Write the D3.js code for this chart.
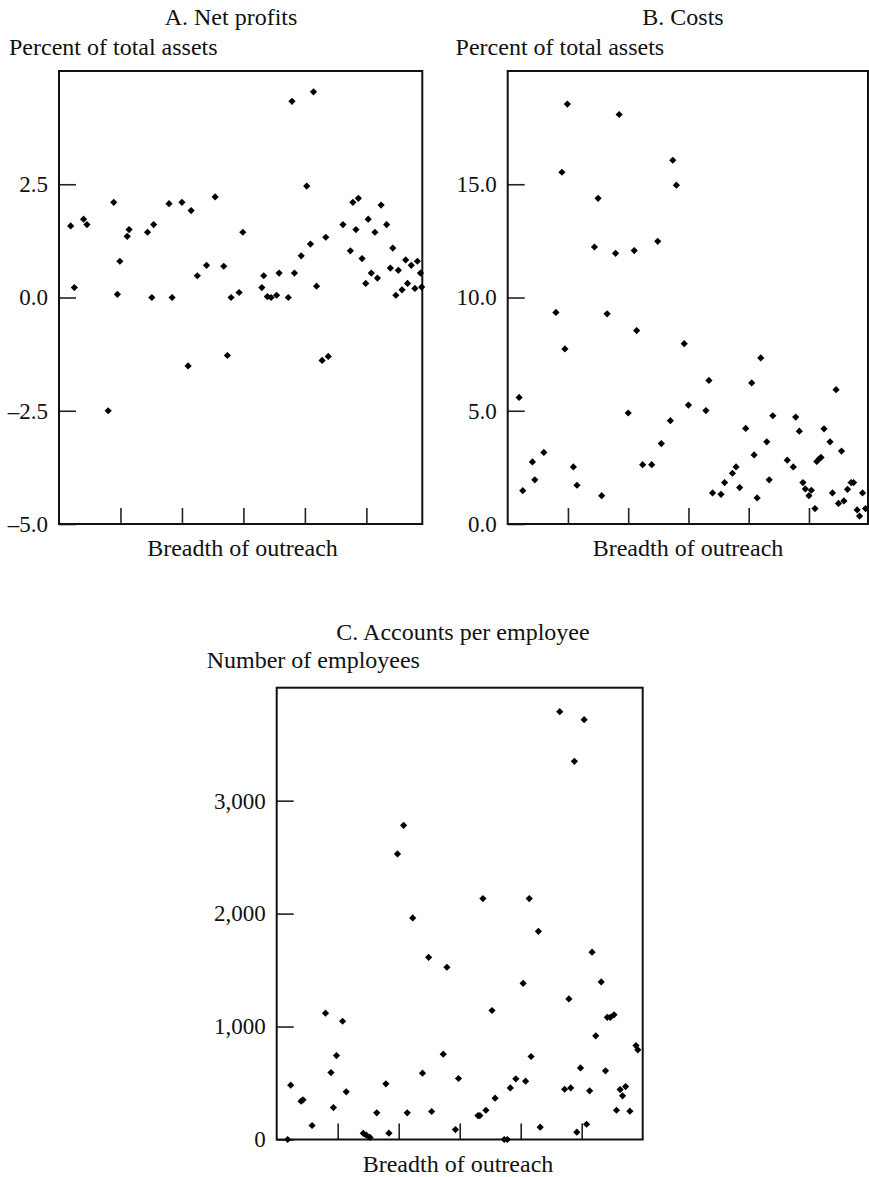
<!DOCTYPE html>
<html>
<head>
<meta charset="utf-8">
<script src="https://cdnjs.cloudflare.com/ajax/libs/d3/7.8.5/d3.min.js"></script>
<style>
  body { margin: 0; background: #fff; }
  svg text { font-family: 'Liberation Serif', 'Times New Roman', serif; font-size: 24px; fill: #111; }
  svg .tick text { font-size: 23px; }
</style>
</head>
<body>
<svg id="chart" width="869" height="1177"></svg>
<script>
'use strict';

// A. Net profits (percent of total assets) against breadth of outreach
var profitsX = [0.19, 0.25, 0.40, 0.455, 0.80, 0.89, 0.95, 0.99, 1.11, 1.14, 1.44, 1.51, 1.54, 1.79, 1.84,
  2.00, 2.10, 2.15, 2.25, 2.40, 2.54, 2.68, 2.74, 2.80, 2.93, 2.99, 3.30, 3.33, 3.39, 3.45, 3.54, 3.58,
  3.73, 3.79, 3.83, 3.94, 4.03, 4.09, 4.14, 4.19, 4.28, 4.34, 4.38, 4.62, 4.74, 4.78, 4.83, 4.87, 4.93,
  4.99, 5.03, 5.08, 5.14, 5.18, 5.24, 5.33, 5.39, 5.43, 5.48, 5.52, 5.58, 5.64, 5.67, 5.73, 5.79, 5.83,
  5.88, 5.90];
var profitsY = [1.58, 0.22, 1.73, 1.61, -2.50, 2.10, 0.07, 0.80, 1.35, 1.50, 1.44, 0.00, 1.61, 2.07, 0.00,
  2.10, -1.51, 1.92, 0.48, 0.71, 2.22, 0.69, -1.28, 0.00, 0.11, 1.44, 0.22, 0.48, 0.02, 0.00, 0.05, 0.54,
  0.00, 4.33, 0.54, 0.92, 2.46, 1.18, 4.54, 0.25, -1.39, 1.33, -1.30, 1.61, 1.03, 2.10, 1.50, 2.19, 0.86,
  0.31, 1.73, 0.54, 1.44, 0.43, 2.04, 1.61, 0.65, 1.09, 0.05, 0.60, 0.17, 0.83, 0.31, 0.71, 0.20, 0.80,
  0.54, 0.23];
var profitsTicks = [-5, -2.5, 0, 2.5];
var profitsTickLabels = ['\u20135.0', '\u20132.5', '0.0', '2.5'];

// B. Costs (percent of total assets)
var costsX = [0.19, 0.25, 0.41, 0.45, 0.60, 0.80, 0.90, 0.95, 0.99, 1.09, 1.15, 1.44, 1.50, 1.56, 1.65,
  1.79, 1.85, 2.00, 2.10, 2.14, 2.24, 2.39, 2.49, 2.55, 2.70, 2.74, 2.80, 2.93, 3.00, 3.29, 3.34, 3.40,
  3.54, 3.60, 3.73, 3.79, 3.85, 3.95, 4.05, 4.09, 4.14, 4.20, 4.30, 4.34, 4.40, 4.64, 4.74, 4.78, 4.84,
  4.90, 4.94, 5.00, 5.04, 5.10, 5.13, 5.17, 5.20, 5.25, 5.35, 5.39, 5.45, 5.49, 5.54, 5.58, 5.64, 5.70,
  5.74, 5.80, 5.84, 5.89, 5.94];
var costsY = [5.59, 1.47, 2.74, 1.95, 3.16, 9.34, 15.53, 7.73, 18.54, 2.52, 1.71, 12.23, 14.38, 1.25, 9.28,
  11.95, 18.08, 4.90, 12.07, 8.54, 2.62, 2.62, 12.48, 3.55, 4.56, 16.06, 14.96, 7.96, 5.25, 5.01, 6.34, 1.37,
  1.31, 1.83, 2.24, 2.52, 1.61, 4.22, 6.23, 3.05, 1.15, 7.33, 3.63, 1.95, 4.78, 2.82, 2.52, 4.72, 4.10,
  1.83, 1.55, 1.25, 1.49, 0.68, 2.76, 2.88, 2.94, 4.20, 3.63, 1.37, 5.93, 0.91, 3.22, 1.02, 1.53, 1.83,
  1.83, 0.62, 0.35, 1.37, 0.68];
var costsTicks = [0, 5, 10, 15];
var costsTickLabels = ['0.0', '5.0', '10.0', '15.0'];

// C. Accounts per employee (number of employees)
var staffX = [0.18, 0.23, 0.40, 0.43, 0.58, 0.80, 0.89, 0.93, 0.98, 1.08, 1.14, 1.42, 1.47, 1.53, 1.64,
  1.79, 1.84, 1.98, 2.08, 2.14, 2.23, 2.39, 2.49, 2.54, 2.73, 2.79, 2.93, 2.98, 3.30, 3.33, 3.38, 3.43,
  3.53, 3.58, 3.73, 3.78, 3.83, 3.92, 4.04, 4.08, 4.14, 4.17, 4.29, 4.32, 4.64, 4.72, 4.79, 4.82, 4.88,
  4.92, 4.98, 5.04, 5.08, 5.13, 5.17, 5.23, 5.32, 5.39, 5.42, 5.47, 5.53, 5.57, 5.63, 5.67, 5.72, 5.79,
  5.89, 5.92];
var staffY = [0, 481, 339, 351, 124, 1118, 593, 283, 743, 1047, 422, 55, 38, 18, 236,
  493, 56, 2528, 2782, 236, 1962, 587, 1613, 248, 755, 1525, 88, 540, 212, 212, 2133, 259,
  1142, 366, 0, 0, 457, 537, 1383, 516, 2133, 735, 1843, 109, 3788, 445, 1245, 457, 3348,
  65, 634, 3717, 135, 431, 1658, 918, 1395, 608, 1082, 1082, 1104, 259, 442, 387, 469, 251,
  832, 794];
var staffTicks = [0, 1000, 2000, 3000];
var staffTickLabels = ['0', '1,000', '2,000', '3,000'];

var outreachTicks = [1, 2, 3, 4, 5];

var panels = [
  { title: 'A. Net profits', yLabel: 'Percent of total assets', xs: profitsX, ys: profitsY,
    yDomain: [-5, 5], xMax: 5.91, ticks: profitsTicks, tickLabels: profitsTickLabels,
    left: 59, right: 422.3, top: 71, bottom: 524,
    titleX: 231, titleY: 25, yLabelX: 9, yLabelY: 55, xLabelX: 242.5, xLabelY: 556 },
  { title: 'B. Costs', yLabel: 'Percent of total assets', xs: costsX, ys: costsY,
    yDomain: [0, 20], xMax: 5.98, ticks: costsTicks, tickLabels: costsTickLabels,
    left: 507.7, right: 868, top: 71, bottom: 524,
    titleX: 683, titleY: 25, yLabelX: 455.6, yLabelY: 55, xLabelX: 688, xLabelY: 556 },
  { title: 'C. Accounts per employee', yLabel: 'Number of employees', xs: staffX, ys: staffY,
    yDomain: [0, 4000], xMax: 6, ticks: staffTicks, tickLabels: staffTickLabels,
    left: 276.7, right: 642.7, top: 687.7, bottom: 1139.5,
    titleX: 463, titleY: 640, yLabelX: 206.7, yLabelY: 668, xLabelX: 458, xLabelY: 1172 }
];

var svg = d3.select('#chart');

svg.append('rect')
   .attr('width', 869)
   .attr('height', 1177)
   .attr('fill', '#fff');

panels.forEach(function (p) {
  drawPanel(svg, p);
});

function drawPanel(svg, p) {
  var x = d3.scaleLinear().domain([0, p.xMax]).range([p.left, p.right]),
      y = d3.scaleLinear().domain(p.yDomain).range([p.bottom, p.top]),
      g = svg.append('g');

  // y ticks point inwards, labels sit outside the frame
  var yAxis = d3.axisLeft(y)
      .tickValues(p.ticks)
      .tickFormat(function (d, i) { return p.tickLabels[i]; })
      .tickSizeInner(-17)
      .tickSizeOuter(0)
      .tickPadding(11);

  var yg = g.append('g')
      .attr('transform', 'translate(' + p.left + ',0)')
      .call(yAxis);
  yg.attr('font-family', null).attr('font-size', null);
  yg.select('.domain').remove();
  yg.selectAll('line').attr('stroke', '#222').attr('stroke-width', 1.6);
  yg.selectAll('text').attr('fill', '#111');

  var xAxis = d3.axisBottom(x)
      .tickValues(outreachTicks)
      .tickFormat('')
      .tickSizeInner(-16)
      .tickSizeOuter(0);

  var xg = g.append('g')
      .attr('transform', 'translate(0,' + p.bottom + ')')
      .call(xAxis);
  xg.select('.domain').remove();
  xg.selectAll('line').attr('stroke', '#222').attr('stroke-width', 1.6);

  // frame
  g.append('rect')
      .attr('x', p.left)
      .attr('y', p.top)
      .attr('width', p.right - p.left)
      .attr('height', p.bottom - p.top)
      .attr('fill', 'none')
      .attr('stroke', '#111')
      .attr('stroke-width', 2);

  var diamond = d3.symbol().type(d3.symbolSquare).size(26)();

  g.append('g')
    .selectAll('path')
    .data(p.xs)
    .join('path')
      .attr('d', diamond)
      .attr('fill', '#000')
      .attr('transform', function (d, i) {
        return 'translate(' + x(d) + ',' + y(p.ys[i]) + ') rotate(45)';
      });

  g.append('text')
      .attr('x', p.titleX)
      .attr('y', p.titleY)
      .attr('text-anchor', 'middle')
      .text(p.title);

  g.append('text')
      .attr('x', p.yLabelX)
      .attr('y', p.yLabelY)
      .text(p.yLabel);

  g.append('text')
      .attr('x', p.xLabelX)
      .attr('y', p.xLabelY)
      .attr('text-anchor', 'middle')
      .text('Breadth of outreach');
}
</script>
</body>
</html>
